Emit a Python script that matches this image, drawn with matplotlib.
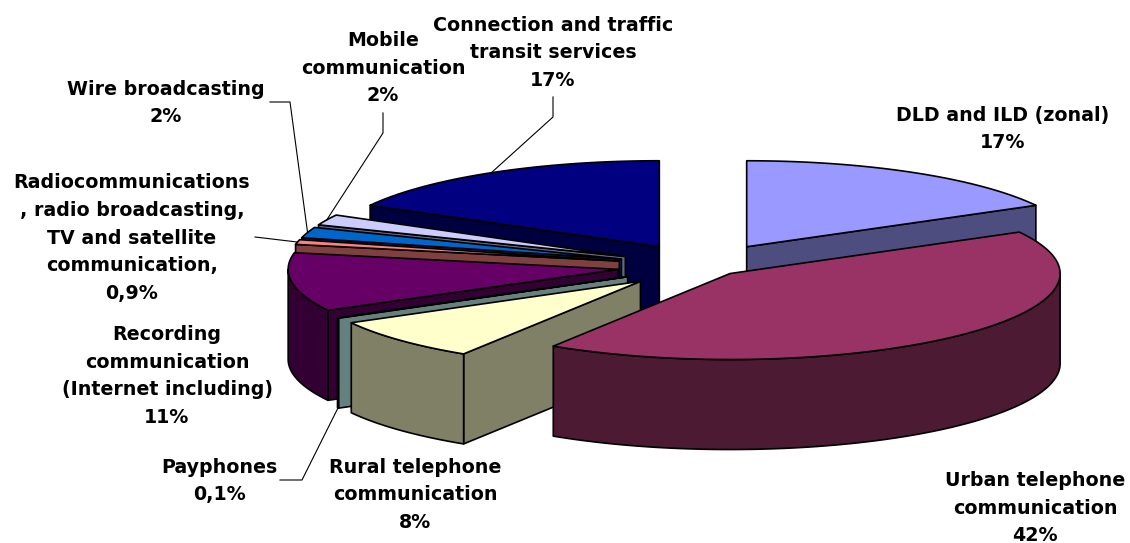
import numpy as np
import matplotlib.pyplot as plt
from matplotlib.patches import Polygon
from matplotlib.colors import to_rgb

# slices, clockwise from 12 o'clock
names = [
    "DLD and ILD (zonal)",
    "Urban telephone\ncommunication",
    "Rural telephone\ncommunication",
    "Payphones",
    "Recording\ncommunication\n(Internet including)",
    "Radiocommunications\n, radio broadcasting,\nTV and satellite\ncommunication,",
    "Wire broadcasting",
    "Mobile\ncommunication",
    "Connection and traffic\ntransit services",
]
shares = [17, 42, 8, 0.1, 11, 0.9, 2, 2, 17]
pct_text = ["17%", "42%", "8%", "0,1%", "11%", "0,9%", "2%", "2%", "17%"]
colors = ["#9999FF", "#993366", "#FFFFCC", "#CCFFFF", "#660066",
          "#FF8080", "#0066CC", "#CCCCFF", "#000080"]

# label block centres (pixels) and leader elbows
label_pos = [(1003, 129), (1035, 508), (415, 495), (219, 481), (167, 376),
             (132, 238), (166, 103), (383, 68), (553, 53)]
leaders = {
    8: [(553, 97), (553, 117)],
    7: [(383, 113), (383, 133)],
    6: [(270, 102), (290, 102)],
    5: [(255, 237)],
    3: [(280, 480), (302, 480)],
}
explode = [0.26, 0.12, 0.26, 0.26, 0.26, 0.26, 0.26, 0.26, 0.26]

W, H = 1130, 543
fig = plt.figure(figsize=(W / 100, H / 100), dpi=100)
ax = fig.add_axes([0, 0, 1, 1])
ax.set_xlim(0, W)
ax.set_ylim(H, 0)
ax.axis("off")

cx, cy = 703, 266
rx, ry, depth = 330, 86, 90


def scr(x, y, z=0.0):
    return (cx + rx * x, cy - ry * y + depth * z)


def arc(ox, oy, a1, a2, z=0.0):
    t = np.radians(np.linspace(a1, a2, max(3, int(abs(a2 - a1) * 2))))
    return [scr(ox + np.sin(a), oy + np.cos(a), z) for a in t]


bounds = np.concatenate([[0], np.cumsum(shares)]) / sum(shares) * 360
pieces = []
anchors = {}
for i, col in enumerate(colors):
    a1, a2 = bounds[i], bounds[i + 1]
    m = np.radians((a1 + a2) / 2)
    ox, oy = explode[i] * np.sin(m), explode[i] * np.cos(m)
    dark = tuple(c * 0.5 for c in to_rgb(col))
    faces = []
    # radial faces
    for a, vis in ((a1, np.sin(np.radians(a1)) < -1e-9),
                   (a2, np.sin(np.radians(a2)) > 1e-9)):
        if vis:
            r = np.radians(a)
            rim = (ox + np.sin(r), oy + np.cos(r))
            faces.append(([scr(ox, oy), scr(*rim), scr(*rim, 1), scr(ox, oy, 1)], dark))
    # outer wall, front half only
    f1, f2 = max(a1, 90), min(a2, 270)
    if f2 > f1:
        faces.append((arc(ox, oy, f1, f2) + arc(ox, oy, f1, f2, 1)[::-1], dark))
    top = [scr(ox, oy)] + arc(ox, oy, a1, a2)
    faces.append((top, col))
    pieces.append((max(p[1] for p in top), faces))
    anchors[i] = (scr(ox + np.sin(m), oy + np.cos(m)),
                  scr(ox + np.sin(m), oy + np.cos(m), 1))

for key, faces in sorted(pieces, key=lambda p: p[0]):
    for pts, fc in faces:
        ax.add_patch(Polygon(pts, closed=True, facecolor=fc, edgecolor="black",
                             linewidth=1.2, joinstyle="round"))

for i, pts in leaders.items():
    end = anchors[i][1] if i == 3 else anchors[i][0]
    xs = [p[0] for p in pts] + [end[0]]
    ys = [p[1] for p in pts] + [end[1]]
    ax.plot(xs, ys, color="black", lw=0.8)

for i, (x, y) in enumerate(label_pos):
    ax.text(x, y, names[i] + "\n" + pct_text[i], ha="center", va="center",
            multialignment="center", fontsize=13.7, fontweight="bold",
            family="DejaVu Sans", linespacing=1.58)

fig.savefig("out.png", dpi=100)
